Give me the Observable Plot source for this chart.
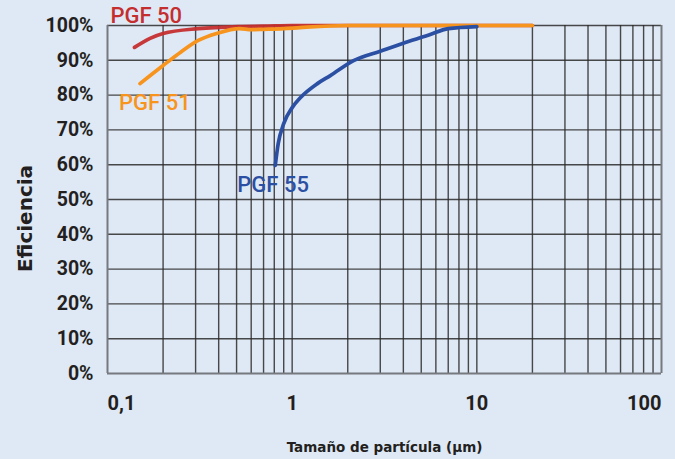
<!DOCTYPE html>
<html>
<head>
<meta charset="utf-8">
<script src="https://cdn.jsdelivr.net/npm/d3@7"></script>
<script src="https://cdn.jsdelivr.net/npm/@observablehq/plot@0.6"></script>
<style>
  html, body { margin: 0; padding: 0; background: #dfe8f5; }
  #chart { width: 675px; height: 459px; }
</style>
</head>
<body>
<div id="chart"></div>
<script>
// ---- data ----
const pgf50X = [0.14, 0.17, 0.2, 0.31, 0.52, 0.7, 1, 2, 5, 10, 20];
const pgf50Y = [93.7, 96.3, 97.7, 99.1, 99.7, 99.8, 100, 100, 100, 100, 100];

const pgf51X = [0.15, 0.2, 0.25, 0.31, 0.39, 0.52, 0.6, 0.7, 0.9, 1.1, 2, 5, 10, 20];
const pgf51Y = [83.3, 88.5, 92.4, 95.7, 97.7, 99.1, 98.8, 98.9, 99.1, 99.4, 100, 100, 100, 100];

const pgf55X = [0.81, 0.84, 0.9, 1.0, 1.11, 1.37, 1.61, 2.15, 3.0, 4.1, 5.5, 7.0, 10];
const pgf55Y = [59.8, 66, 71.8, 76.4, 79.3, 83.3, 85.6, 89.9, 92.6, 95.1, 97.3, 99.1, 99.7];

const seriesNames = ["PGF 50", "PGF 51", "PGF 55"];
const seriesColors = ["#c42e2e", "#f7941d", "#2b50a3"];

const xTickStart = [0.1];
const xTickMid = [1, 10];
const xTickEnd = [100];
const yTicks = [0, 10, 20, 30, 40, 50, 60, 70, 80, 90, 100];
const xGrid = [0.2, 0.3, 0.4, 0.5, 0.6, 0.7, 0.8, 0.9, 1, 2, 3, 4, 5, 6, 7, 8, 9, 10, 20, 30, 40, 50, 60, 70, 80, 90];
const yGrid = [10, 20, 30, 40, 50, 60, 70, 80, 90, 100];

const xTitle = "Tamaño de partícula (μm)";
const yTitle = "Eficiencia";

// ---- build tables ----
const toRows = (xs, ys, name) => xs.map((x, i) => ({x, y: ys[i], name}));
const red = toRows(pgf50X, pgf50Y, seriesNames[0]);
const orange = toRows(pgf51X, pgf51Y, seriesNames[1]);
const blue = toRows(pgf55X, pgf55Y, seriesNames[2]);

const tickFont = "Roboto, 'Noto Sans', sans-serif";
const fmtX = d => String(d).replace(".", ",");
const ink = "#231f20";

const axisCommon = {
  tickSize: 0, tickPadding: 22, fontSize: 20, fontWeight: "bold",
  fontFamily: tickFont, fill: ink, label: null, tickFormat: fmtX
};
const labelStyle = {x: "x", y: "y", text: "name", fontSize: 22, fontFamily: tickFont, fontWeight: 500,
  textAnchor: "start", lineAnchor: "middle", letterSpacing: -0.8};

const chart = Plot.plot({
  width: 675,
  height: 459,
  marginLeft: 107,
  marginRight: 14,
  marginTop: 25,
  marginBottom: 86,
  style: {background: "#dfe8f5", color: ink, overflow: "visible"},
  x: {type: "log", domain: [0.1, 100]},
  y: {domain: [0, 100]},
  marks: [
    Plot.ruleX(xGrid, {stroke: "#2a2a2a", strokeWidth: 1.4, strokeOpacity: 0.85}),
    Plot.ruleY(yGrid, {stroke: "#2a2a2a", strokeWidth: 1.4, strokeOpacity: 0.85}),
    Plot.ruleX([0.1], {stroke: "#76797e", strokeWidth: 2}),
    Plot.ruleX([100], {stroke: "#76797e", strokeWidth: 2}),
    Plot.ruleY([0], {stroke: "#76797e", strokeWidth: 2}),
    Plot.axisY({ticks: yTicks, tickSize: 0, tickPadding: 14, fontSize: 19.5, fontWeight: "bold",
      fontFamily: tickFont, fill: ink, label: null, tickFormat: d => d + "%"}),
    Plot.axisX({...axisCommon, ticks: xTickStart, textAnchor: "start"}),
    Plot.axisX({...axisCommon, ticks: xTickMid}),
    Plot.axisX({...axisCommon, ticks: xTickEnd, textAnchor: "end"}),
    Plot.line(red, {x: "x", y: "y", stroke: seriesColors[0], strokeWidth: 3.7, curve: "monotone-x", strokeOpacity: 0.95}),
    Plot.line(orange, {x: "x", y: "y", stroke: seriesColors[1], strokeWidth: 3.7, curve: "monotone-x"}),
    Plot.line(blue, {x: "x", y: "y", stroke: seriesColors[2], strokeWidth: 3.7, curve: "monotone-x"}),
    Plot.text([red[0]], {...labelStyle, fill: seriesColors[0], dx: -24, dy: -31}),
    Plot.text([orange[0]], {...labelStyle, fill: seriesColors[1], dx: -21, dy: 19.5}),
    Plot.text([blue[0]], {...labelStyle, fill: seriesColors[2], dx: -38, dy: 19.5}),
    Plot.text([xTitle], {frameAnchor: "bottom", dy: 74, lineAnchor: "middle", textAnchor: "middle",
      fontSize: 13.5, fontWeight: "bold", fontFamily: "'DejaVu Sans', sans-serif", fill: ink}),
    Plot.text([yTitle], {frameAnchor: "left", dx: -82, dy: 19, rotate: -90, textAnchor: "middle",
      lineAnchor: "middle", fontSize: 20, fontWeight: "bold",
      fontFamily: "'DejaVu Sans', sans-serif", fill: ink})
  ]
});
document.getElementById("chart").appendChild(chart);
</script>
</body>
</html>
